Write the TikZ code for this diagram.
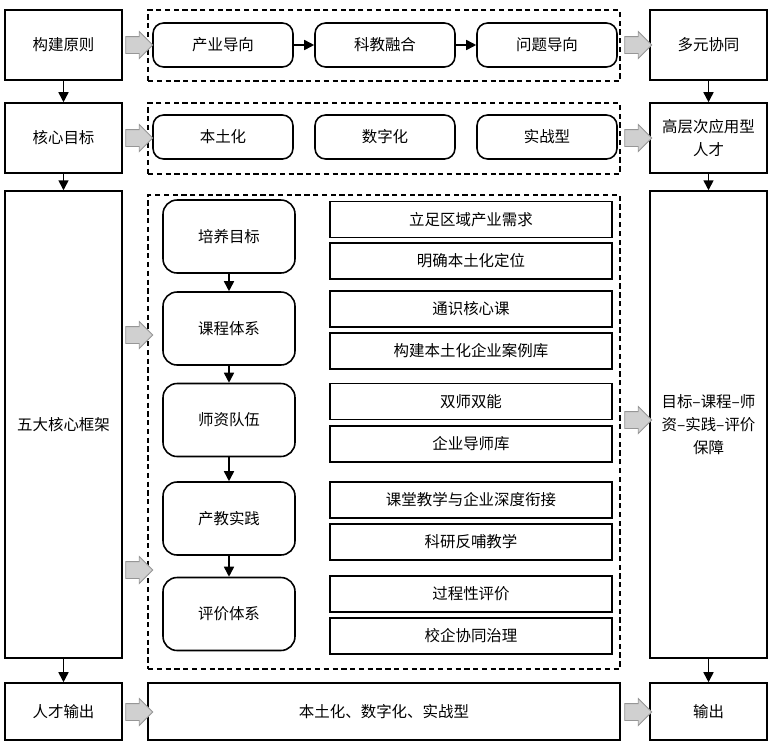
\documentclass[tikz,border=0pt]{standalone}
\usepackage{fontspec}
\setmainfont{Noto Sans CJK SC}
\usetikzlibrary{arrows.meta,shapes.arrows}
\definecolor{arrowGray}{RGB}{208,208,208}
\definecolor{arrowEdge}{RGB}{150,150,150}

\begin{document}
\begin{tikzpicture}[x=0.02cm, y=-0.02cm,
    every node/.style={font=\fontsize{8.8}{13}\selectfont},
    sidebox/.style={draw, line width=0.9pt, minimum width=2.34cm, align=center, inner sep=2pt},
    groupbox/.style={draw, line width=0.8pt, dash pattern=on 3pt off 2pt, minimum width=9.44cm},
    rowbox/.style={draw, line width=0.9pt, rounded corners=6pt, minimum width=2.8cm, minimum height=0.88cm},
    stagebox/.style={draw, line width=0.9pt, rounded corners=8pt, minimum width=2.64cm, minimum height=1.46cm},
    itembox/.style={draw, line width=0.9pt, minimum width=5.64cm, minimum height=0.72cm},
    bigarrow/.style={single arrow, draw=arrowEdge, fill=arrowGray, line width=0.5pt, inner sep=0pt,
                     text height=0.32cm, text depth=0pt, text width=0pt,
                     minimum height=0.54cm, single arrow head extend=0.1cm},
    link/.style={-{Triangle[length=2mm,width=2mm]}, line width=0.9pt}]
  \useasboundingbox (0,0) rectangle (773,748);

  % left column
  \node[sidebox, minimum height=1.4cm] (principle) at (63.5,45) {构建原则};
  \node[sidebox, minimum height=1.4cm] (goal) at (63.5,138) {核心目标};
  \node[sidebox, minimum height=9.34cm] (frame) at (63.5,424.5) {五大核心框架};
  \node[sidebox, minimum height=1.14cm] (talent) at (63.5,711.5) {人才输出};

  % right column
  \node[sidebox, minimum height=1.4cm] (synergy) at (708.5,45) {多元协同};
  \node[sidebox, minimum height=1.4cm] (applied) at (708.5,138) {高层次应用型\\人才};
  \node[sidebox, minimum height=9.34cm] (guarantee) at (708.5,424.5) {目标–课程–师\\资–实践–评价\\保障};
  \node[sidebox, minimum height=1.14cm] (output) at (708.5,711.5) {输出};

  % middle groups
  \node[groupbox, minimum height=1.42cm] (groupA) at (384,45.5) {};
  \node[groupbox, minimum height=1.42cm] (groupB) at (384,138.5) {};
  \node[groupbox, minimum height=9.48cm] (groupC) at (384,432) {};
  \node[sidebox, minimum width=9.44cm, minimum height=1.14cm] (feature) at (384,711.5) {本土化、数字化、实战型};

  \node[rowbox] (industry) at (223,45) {产业导向};
  \node[rowbox] (science) at (385,45) {科教融合};
  \node[rowbox] (problem) at (547,45) {问题导向};

  \node[rowbox] (local) at (223,137) {本土化};
  \node[rowbox] (digital) at (385,137) {数字化};
  \node[rowbox] (practical) at (547,137) {实战型};

  % five stages
  \node[stagebox] (aim) at (229,236.5) {培养目标};
  \node[stagebox] (course) at (229,328.5) {课程体系};
  \node[stagebox] (teacher) at (229,420) {师资队伍};
  \node[stagebox] (practice) at (229,518.5) {产教实践};
  \node[stagebox] (assess) at (229,614) {评价体系};

  \node[itembox] (demand) at (471,219.5) {立足区域产业需求};
  \node[itembox] (position) at (471,261) {明确本土化定位};
  \node[itembox] (core) at (471,309) {通识核心课};
  \node[itembox] (cases) at (471,351) {构建本土化企业案例库};
  \node[itembox] (dual) at (471,401.5) {双师双能};
  \node[itembox] (mentor) at (471,444) {企业导师库};
  \node[itembox] (link) at (471,500) {课堂教学与企业深度衔接};
  \node[itembox] (feedback) at (471,542) {科研反哺教学};
  \node[itembox] (process) at (471,594) {过程性评价};
  \node[itembox] (govern) at (471,636) {校企协同治理};

  % gray block arrows
  \node[bigarrow] (arrA) at (135,45) {};
  \node[bigarrow] (arrB) at (135,138) {};
  \node[bigarrow] (arrC) at (135,335) {};
  \node[bigarrow] (arrD) at (135,570) {};
  \node[bigarrow] (arrE) at (135,712) {};
  \node[bigarrow] (arrF) at (634,45) {};
  \node[bigarrow] (arrG) at (634,138) {};
  \node[bigarrow] (arrH) at (634,420) {};
  \node[bigarrow] (arrI) at (634,712) {};

  % black arrows
  \draw[link] (principle) -- (goal);
  \draw[link] (goal) -- (frame);
  \draw[link] (frame) -- (talent);
  \draw[link] (synergy) -- (applied);
  \draw[link] (applied) -- (guarantee);
  \draw[link] (guarantee) -- (output);
  \draw[link] (industry) -- (science);
  \draw[link] (science) -- (problem);
  \draw[link] (aim) -- (course);
  \draw[link] (course) -- (teacher);
  \draw[link] (teacher) -- (practice);
  \draw[link] (practice) -- (assess);
\end{tikzpicture}
\end{document}
